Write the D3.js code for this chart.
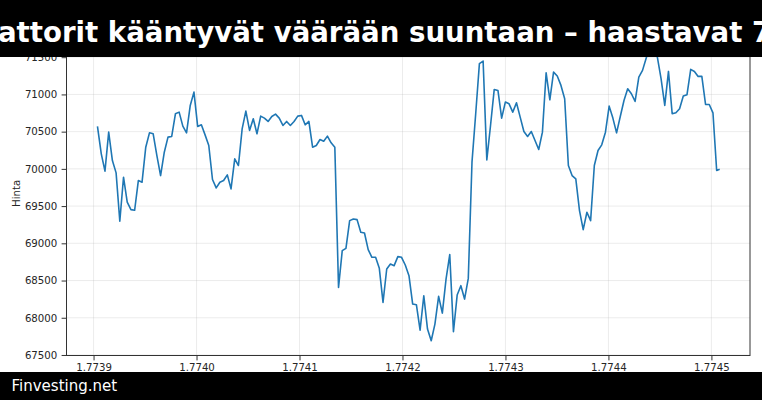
<!DOCTYPE html>
<html>
<head>
<meta charset="utf-8">
<script src="https://cdn.jsdelivr.net/npm/d3@7"></script>
<style>
  html, body { margin: 0; padding: 0; background: #fff; }
  svg { display: block; }
  text { font-family: "DejaVu Sans", sans-serif; }
</style>
</head>
<body>
<svg id="chart" width="762" height="400"></svg>
<script>
// ---- data ----
const titleText = "attorit kääntyvät väärään suuntaan – haastavat 7";
const footerText = "Finvesting.net";
const yLabel = "Hinta";
const startTime = 1773903900;   // first hourly sample (unix seconds)
const stepSeconds = 3600;
const lastTime = 1774507300;    // final (partial-hour) sample
const prices = [
  70561, 70202, 69969, 70493, 70112, 69946, 69296, 69888, 69552, 69453,
  69444, 69843, 69821, 70291, 70484, 70471, 70179, 69910, 70224, 70426,
  70435, 70740, 70762, 70574, 70484, 70852, 71031, 70570, 70592, 70457,
  70314, 69857, 69744, 69821, 69843, 69919, 69731, 70135, 70045, 70538,
  70776, 70516, 70673, 70471, 70709, 70682, 70637, 70704, 70735, 70682,
  70583, 70637, 70583, 70637, 70709, 70718, 70592, 70637, 70291, 70314,
  70395, 70372, 70440, 70350, 70291, 68408, 68901, 68933, 69305, 69327,
  69318, 69148, 69139, 68915, 68812, 68812, 68664, 68207, 68655, 68722,
  68700, 68821, 68812, 68709, 68565, 68184, 68175, 67834, 68296, 67848,
  67691, 67915, 68287, 68063, 68520, 68848, 67812, 68305, 68431, 68251,
  68529, 70090, 70740, 71413, 71448, 70121, 70583, 71067, 71054, 70682,
  70897, 70874, 70762, 70888, 70695, 70502, 70435, 70502, 70381, 70260,
  70493, 71291, 70928, 71300, 71247, 71121, 70942, 70045, 69910, 69866,
  69440, 69184, 69417, 69305, 70045, 70247, 70323, 70493, 70843, 70682,
  70484, 70704, 70919, 71076, 71009, 70906, 71233, 71323, 71489, 71650,
  71600, 71502, 71211, 70852, 71309, 70740, 70753, 70807, 70978, 70996,
  71336, 71309, 71242, 71242, 70865, 70865, 70753, 69978, 69991
];
const yTicks = [67500, 68000, 68500, 69000, 69500, 70000, 70500, 71000, 71500];
const xTicks = [1773900000, 1774000000, 1774100000, 1774200000, 1774300000, 1774400000, 1774500000];
const xTickLabels = ["1.7739", "1.7740", "1.7741", "1.7742", "1.7743", "1.7744", "1.7745"];

const times = prices.map((_, i) => i === prices.length - 1 ? lastTime : startTime + i * stepSeconds);
const series = prices.map((p, i) => ({ t: times[i], v: p }));

// ---- layout ----
const W = 762, H = 400;
const plot = { left: 66.5, right: 750, top: 31.3, bottom: 355.5 };

const svg = d3.select("#chart");

function padded(ext) {
  const r = ext[1] - ext[0];
  return [ext[0] - 0.05 * r, ext[1] + 0.05 * r];
}

const x = d3.scaleLinear()
  .domain(padded(d3.extent(times)))
  .range([plot.left, plot.right]);
const y = d3.scaleLinear()
  .domain(padded(d3.extent(prices)))
  .range([plot.bottom, plot.top]);

// gridlines
const grid = svg.append("g");
grid.selectAll("line.h").data(yTicks).join("line")
  .attr("x1", plot.left).attr("x2", plot.right)
  .attr("y1", d => y(d)).attr("y2", d => y(d))
  .attr("stroke", "#b0b0b0").attr("stroke-opacity", 0.3).attr("stroke-width", 0.8);
grid.selectAll("line.v").data(xTicks).join("line")
  .attr("y1", plot.top).attr("y2", plot.bottom)
  .attr("x1", d => x(d)).attr("x2", d => x(d))
  .attr("stroke", "#b0b0b0").attr("stroke-opacity", 0.3).attr("stroke-width", 0.8);

// line
const clipId = "plotclip";
svg.append("clipPath").attr("id", clipId).append("rect")
  .attr("x", plot.left).attr("y", plot.top)
  .attr("width", plot.right - plot.left).attr("height", plot.bottom - plot.top);

svg.append("path")
  .datum(series)
  .attr("clip-path", `url(#${clipId})`)
  .attr("fill", "none")
  .attr("stroke", "#1f77b4")
  .attr("stroke-width", 1.6)
  .attr("stroke-linejoin", "round")
  .attr("stroke-linecap", "square")
  .attr("d", d3.line().x(d => x(d.t)).y(d => y(d.v)));

// axes
const yAxis = d3.axisLeft(y).tickValues(yTicks).tickFormat(d3.format("d")).tickSize(4.9).tickPadding(4.3);
const xAxis = d3.axisBottom(x).tickValues(xTicks).tickFormat((d, i) => xTickLabels[i]).tickSize(4.9).tickPadding(3.2);

const gy = svg.append("g").attr("transform", `translate(${plot.left},0)`).call(yAxis);
const gx = svg.append("g").attr("transform", `translate(0,${plot.bottom})`).call(xAxis);
[gy, gx].forEach(g => {
  g.select(".domain").remove();
  g.selectAll(".tick line").attr("stroke", "#333").attr("stroke-width", 1);
  g.selectAll(".tick text").attr("fill", "#262626").style("font-size", "10.2px")
    .style("font-family", "'DejaVu Sans', sans-serif");
});

// spines
svg.append("rect")
  .attr("x", plot.left).attr("y", plot.top)
  .attr("width", plot.right - plot.left).attr("height", plot.bottom - plot.top)
  .attr("fill", "none").attr("stroke", "#333").attr("stroke-width", 1);

// y label
svg.append("text")
  .attr("transform", `translate(19.5,${(plot.top + plot.bottom) / 2}) rotate(-90)`)
  .attr("text-anchor", "middle")
  .attr("fill", "#262626")
  .style("font-size", "10.2px")
  .text(yLabel);

// title banner
svg.append("rect").attr("x", 0).attr("y", 0).attr("width", W).attr("height", 57).attr("fill", "#000");
svg.append("text")
  .attr("x", -2).attr("y", 42)
  .attr("fill", "#fff")
  .style("font-size", "27.6px")
  .style("font-weight", "bold")
  .text(titleText);

// footer banner
svg.append("rect").attr("x", 0).attr("y", 372).attr("width", W).attr("height", 28).attr("fill", "#000");
svg.append("text")
  .attr("x", 11.5).attr("y", 391)
  .attr("fill", "#fff")
  .style("font-size", "15px")
  .text(footerText);
</script>
</body>
</html>
